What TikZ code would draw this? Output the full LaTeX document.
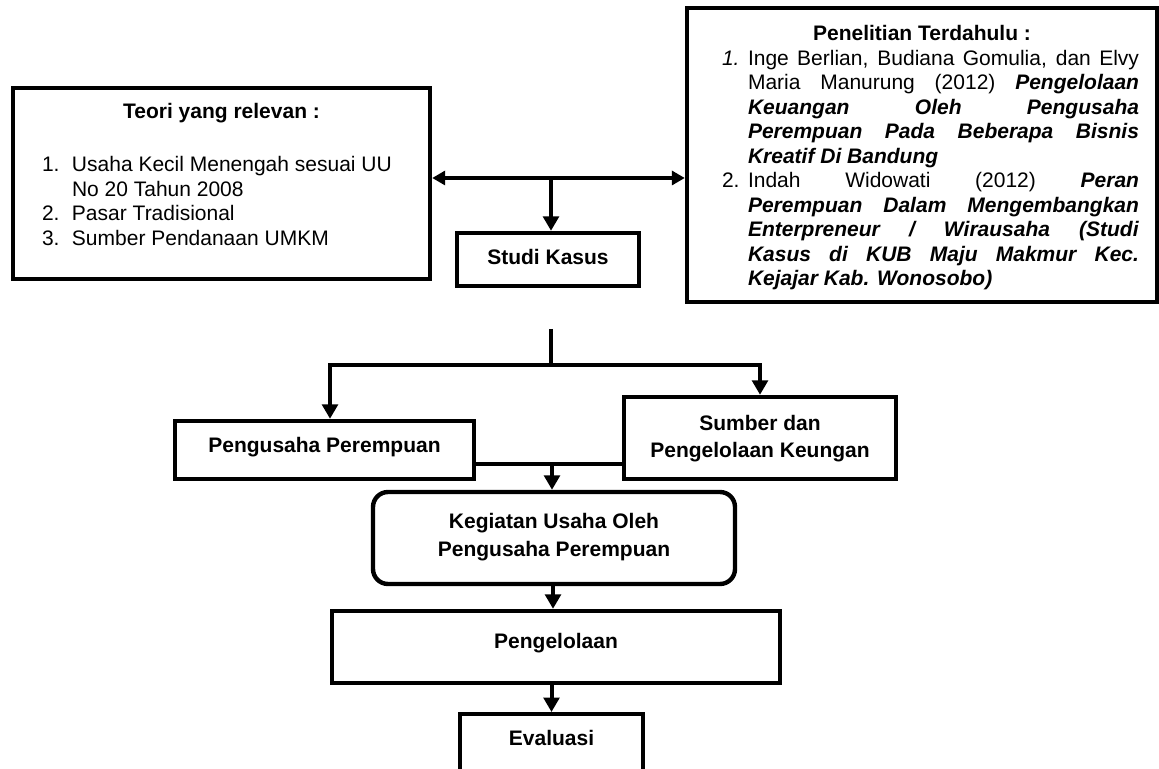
\documentclass[tikz,border=0pt]{standalone}
\usepackage{fontspec}
\setmainfont{Liberation Sans}
\usetikzlibrary{arrows.meta,calc}
\newcommand\bitx[1]{\textbf{\textit{#1}}}
\tikzset{
  bx/.style={draw, line width=2.2pt, inner sep=0pt, font=\fontsize{10.5}{12.25}\selectfont},
  bbx/.style={bx, font=\fontsize{10.5}{14}\selectfont\bfseries, align=center},
  ln/.style={line width=2pt},
  arr/.style={ln, -{Triangle[width=7.8pt,length=7.2pt]}},
  dbl/.style={ln, {Triangle[width=7pt,length=6.5pt]}-{Triangle[width=7pt,length=6.5pt]}},
}
\begin{document}
\begin{tikzpicture}[x=0.5pt,y=-0.5pt]
\useasboundingbox (0,0) rectangle (1159,769);
\clip (0,0) rectangle (1159,769);

% Teori yang relevan
\node[bx, minimum width=208.5pt] (teori) at (221.5,183.5) {%
\begin{minipage}{179.5pt}
\makebox[\linewidth]{\rule{0pt}{15.5pt}\textbf{Teori yang relevan :}}\\[14.25pt]
\mbox{\makebox[15pt][l]{1.}Usaha Kecil Menengah sesuai UU}\\
\hspace*{15pt}No 20 Tahun 2008\\
\makebox[15pt][l]{2.}Pasar Tradisional\\
\makebox[15pt][l]{3.}Sumber Pendanaan UMKM\rule[-17pt]{0pt}{0pt}
\end{minipage}};

% Penelitian Terdahulu
\node[bx, minimum width=235pt] (penelitian) at (922,155) {%
\begin{minipage}{217pt}
\makebox[\linewidth]{\rule{0pt}{16.5pt}\textbf{Penelitian Terdahulu :}}\\
\hspace*{8.5pt}\makebox[13pt][l]{\textit{1.}}\hbox to 195.5pt{Inge Berlian, Budiana Gomulia, dan Elvy}\\
\hspace*{21.5pt}\hbox to 195.5pt{Maria Manurung (2012) \bitx{Pengelolaan}}\\
\hspace*{21.5pt}\hbox to 195.5pt{\bitx{Keuangan Oleh Pengusaha}}\\
\hspace*{21.5pt}\hbox to 195.5pt{\bitx{Perempuan Pada Beberapa Bisnis}}\\
\hspace*{21.5pt}\bitx{Kreatif Di Bandung}\\
\hspace*{8.5pt}\makebox[13pt][l]{2.}\hbox to 195.5pt{Indah Widowati (2012) \bitx{Peran}}\\
\hspace*{21.5pt}\hbox to 195.5pt{\bitx{Perempuan Dalam Mengembangkan}}\\
\hspace*{21.5pt}\hbox to 195.5pt{\bitx{Enterpreneur / Wirausaha (Studi}}\\
\hspace*{21.5pt}\hbox to 195.5pt{\bitx{Kasus di KUB Maju Makmur Kec.}}\\
\hspace*{21.5pt}\bitx{Kejajar Kab. Wonosobo)}\rule[-8pt]{0pt}{0pt}
\end{minipage}};

% Studi Kasus
\node[bbx, minimum width=91pt, text height=16pt, text depth=10.5pt] (studi) at (548,259.5) {Studi Kasus};

% Pengusaha Perempuan
\node[bbx, minimum width=149.5pt, text height=15.5pt, text depth=13.5pt] (pengusaha) at (324.5,450) {Pengusaha Perempuan};

% Sumber dan Pengelolaan Keungan
\node[bbx, minimum width=136pt, font=\fontsize{10.5}{13.5}\selectfont\bfseries] (sumber) at (760,438)
  {\rule{0pt}{16.5pt}Sumber dan\\Pengelolaan Keungan\rule[-11pt]{0pt}{0pt}};

% Kegiatan Usaha
\node[bbx, minimum width=181pt, rounded corners=7.5pt] (kegiatan) at (554,538)
  {\rule{0pt}{18pt}Kegiatan Usaha Oleh\\Pengusaha Perempuan\rule[-14pt]{0pt}{0pt}};

% Pengelolaan
\node[bbx, minimum width=224pt, text height=18.5pt, text depth=17.5pt] (pengelolaan) at (556,647) {Pengelolaan};

% Evaluasi (cut at the bottom)
\node[bbx, anchor=north, minimum width=91.5pt, text height=15.5pt, text depth=32.5pt] (evaluasi) at (551.5,712) {Evaluasi};

% connectors
\coordinate (hm) at (551,178);
\draw[dbl] (hm -| teori.east) -- (hm -| penelitian.west);
\draw[arr] (hm) -- (hm |- studi.north);

\coordinate (s1) at (551,329);
\coordinate (s2) at (551,365);
\draw[ln] (s1) -- (s2);
\draw[arr] (s2) -| ([xshift=2.75pt]pengusaha.north);
\draw[arr] (s2) -| (sumber.north);

\coordinate (jn) at (552,464);
\draw[ln] (jn -| pengusaha.east) -- (jn -| sumber.west);
\draw[arr] (jn) -- (jn |- kegiatan.north);

\draw[arr] ([xshift=-0.5pt]kegiatan.south) -- ([xshift=-0.5pt]kegiatan.south |- pengelolaan.north);
\draw[arr] (evaluasi.north |- pengelolaan.south) -- (evaluasi.north);
\end{tikzpicture}
\end{document}
